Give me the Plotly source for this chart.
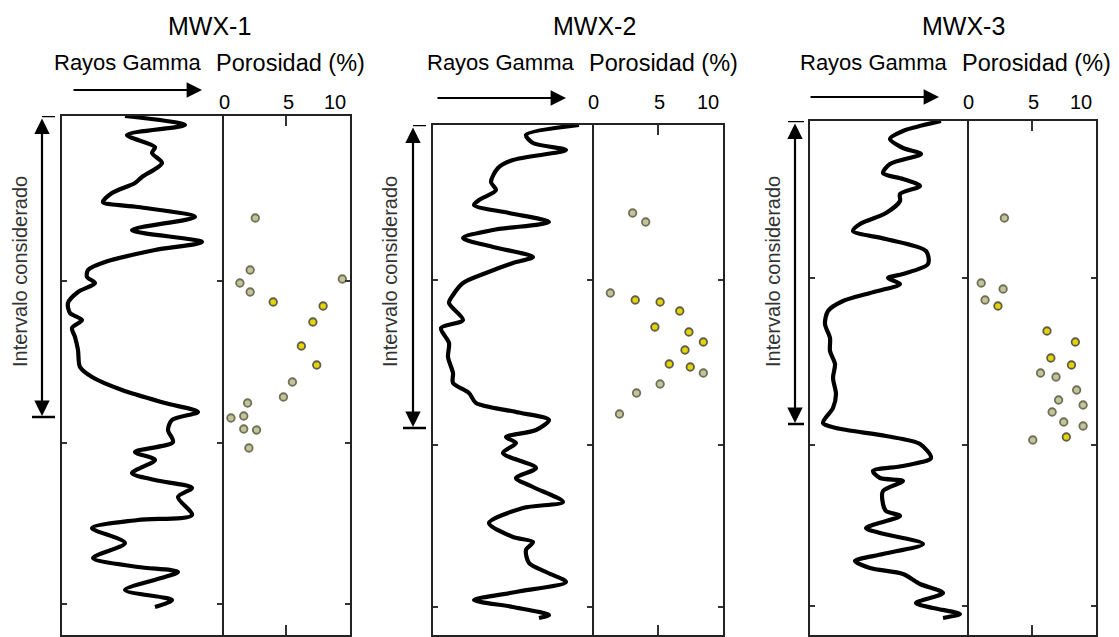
import plotly.graph_objects as go

W, H = 1119, 637

wells = ["MWX-1", "MWX-2", "MWX-3"]
track_titles = ["Rayos Gamma", "Porosidad (%)"]
por_ticks = [0, 5, 10]
por_tick_text = ["0", "5", "10"]
interval_label = "Intervalo considerado"

# Gamma-ray curves (relative gamma units, depth units from top of track)
gr1_g = [63,123,65,93,90,100,80,73,50,41,76,133,70,140,93,43,26,25,33,16,6,8,20,10,13,16,18,30,60,103,136,110,106,111,73,93,70,93,130,116,130,76,30,63,31,76,116,63,110,93]
gr1_d = [0,9,19,31,37,47,61,67,77,86,91,101,114,126,134,146,154,161,167,176,187,197,204,212,221,234,251,261,274,287,296,304,314,326,336,344,357,364,372,381,399,404,412,427,442,451,456,474,484,491]

gr2_g = [146,93,100,133,80,65,58,63,46,41,76,116,60,30,60,100,80,53,30,20,16,30,8,16,15,20,20,36,43,83,116,103,73,83,70,103,83,100,130,90,56,80,100,93,96,113,133,83,41,80,116,106]
gr2_d = [0,10,18,25,35,43,57,65,75,80,88,97,105,113,122,132,138,148,158,170,178,195,203,218,232,248,258,268,278,287,295,305,312,318,328,343,353,362,377,383,398,412,417,425,438,447,457,467,475,482,490,493]

gr3_g = [131,93,80,93,111,80,73,93,110,90,90,76,50,43,76,116,118,93,78,90,60,33,18,15,20,20,25,23,26,23,13,26,76,110,121,93,63,70,93,73,73,76,90,56,70,113,73,45,60,93,110,133,106,123,150,133]
gr3_d = [0,10,18,27,33,43,52,58,65,73,80,92,103,110,118,130,143,153,157,163,172,180,190,203,217,230,243,257,273,287,302,307,315,323,337,345,350,357,360,370,383,390,395,407,412,423,433,440,447,453,463,472,482,487,493,497]

# Porosity samples (%), depth, group (1 = yellow, 0 = olive)
por1_v = [2.6,2.2,1.4,2.2,9.4,4.0,7.9,7.1,6.2,7.4,5.5,4.8,2.0,1.7,0.7,1.7,2.7,2.1]
por1_d = [102,154,167,176,163,186,190,206,230,249,266,281,287,300,302,313,314,332]
por1_k = [0,0,0,0,0,1,1,1,1,1,0,0,0,0,0,0,0,0]

por2_v = [3.1,4.1,1.4,3.3,5.2,6.7,4.8,7.4,8.5,7.1,5.9,7.5,8.5,5.2,3.4,2.1]
por2_d = [88,97,168,175,177,186,202,207,217,225,239,242,248,259,268,289]
por2_k = [0,0,0,1,1,1,1,1,1,1,1,1,0,0,0,0]

por3_v = [2.9,1.1,2.8,1.4,2.4,6.2,8.4,6.5,8.1,5.7,6.9,8.5,7.1,9.0,6.6,7.5,9.0,7.7,5.1]
por3_d = [97,162,168,179,185,210,221,237,244,252,256,269,279,284,291,301,305,316,319]
por3_k = [0,0,0,0,1,1,1,1,1,0,0,0,0,0,0,0,0,1,0]

interval_bottom = [301, 303, 303]
depth_ticks = [[165, 327, 488], [155, 320, 482], [157, 324, 485]]

# ---------------- layout geometry (pixels) ----------------
panels = [
    dict(left=62, div=222, right=350, top=116, title_x=210, rg_x=127, po_x=290,
         arr_x0=72, arr_x1=202, arr_y=90, int_x=42, txt_x=20,
         bar_top=(42, 55), bar_bot=(32, 55)),
    dict(left=433, div=592, right=723, top=125, title_x=595, rg_x=500, po_x=663,
         arr_x0=436, arr_x1=566, arr_y=98, int_x=413, txt_x=390,
         bar_top=(413, 426), bar_bot=(403, 426)),
    dict(left=810, div=967, right=1096, top=121, title_x=963, rg_x=873, po_x=1036,
         arr_x0=809, arr_x1=939, arr_y=97, int_x=795, txt_x=773,
         bar_top=(788, 804), bar_bot=(788, 804)),
]
BOTTOM = 635

def px(x):
    return x / W

def py(y):
    return 1 - y / H

gr = [(gr1_g, gr1_d), (gr2_g, gr2_d), (gr3_g, gr3_d)]
por = [(por1_v, por1_d, por1_k), (por2_v, por2_d, por2_k), (por3_v, por3_d, por3_k)]

FONT = "Liberation Sans, Arial, sans-serif"
LINEC = "#222222"

fig = go.Figure()
layout = dict(
    width=W, height=H, margin=dict(l=0, r=0, t=0, b=0),
    paper_bgcolor="white", plot_bgcolor="white", showlegend=False,
    font=dict(family=FONT, color="black"),
)
annotations = []
shapes = []

for i, p in enumerate(panels):
    ga = 2 * i + 1
    pa = 2 * i + 2
    depth_range = [BOTTOM - p["top"], 0]
    gx = "x" if ga == 1 else f"x{ga}"
    gy = "y" if ga == 1 else f"y{ga}"
    pxn = f"x{pa}"
    pyn = f"y{pa}"
    ydom = [py(BOTTOM), py(p["top"])]

    layout["xaxis" if ga == 1 else f"xaxis{ga}"] = dict(
        domain=[px(p["left"]), px(p["div"])], range=[0, p["div"] - p["left"]],
        anchor=gy, showline=True, mirror=True, linecolor=LINEC, linewidth=2,
        showgrid=False, zeroline=False, showticklabels=False, ticks="")
    layout["yaxis" if ga == 1 else f"yaxis{ga}"] = dict(
        domain=ydom, range=depth_range, anchor=gx, showline=True, mirror="ticks",
        linecolor=LINEC, linewidth=2, showgrid=False, zeroline=False,
        showticklabels=False, ticks="inside", tickvals=depth_ticks[i],
        ticklen=5, tickwidth=2, tickcolor="#333333")
    layout[f"xaxis{pa}"] = dict(
        domain=[px(p["div"]), px(p["right"])], range=[0, 10], anchor=pyn,
        showline=True, mirror="ticks", linecolor=LINEC, linewidth=2,
        showgrid=False, zeroline=False, showticklabels=False,
        ticks="inside", tickvals=[5], ticklen=10, tickwidth=2, tickcolor="#333333")
    layout[f"yaxis{pa}"] = dict(
        domain=ydom, range=depth_range, anchor=pxn, side="right", showline=True, mirror=False,
        linecolor=LINEC, linewidth=2, showgrid=False, zeroline=False,
        showticklabels=False, ticks="inside", tickvals=depth_ticks[i],
        ticklen=5, tickwidth=2, tickcolor="#333333")

    g, d = gr[i]
    fig.add_trace(go.Scatter(x=g, y=d, xaxis=gx, yaxis=gy, mode="lines",
                             line=dict(color="black", width=4.2, shape="spline", smoothing=0.8),
                             hoverinfo="skip"))
    v, dd, k = por[i]
    for grp, fill, edge in [(0, "#c4c49a", "#6f6f58"), (1, "#e6d400", "#5d5d4a")]:
        xs = [a for a, kk in zip(v, k) if kk == grp]
        ys = [b for b, kk in zip(dd, k) if kk == grp]
        fig.add_trace(go.Scatter(x=xs, y=ys, xaxis=pxn, yaxis=pyn, mode="markers",
                                 marker=dict(size=7.5, color=fill, line=dict(color=edge, width=1.8)),
                                 hoverinfo="skip"))

    # Titles
    annotations.append(dict(text=wells[i], x=px(p["title_x"]), y=py(26), xref="paper", yref="paper",
                            showarrow=False, font=dict(size=25, color="black"),
                            xanchor="center", yanchor="middle"))
    annotations.append(dict(text=track_titles[0], x=px(p["rg_x"]), y=py(63), xref="paper", yref="paper",
                            showarrow=False, font=dict(size=22, color="black"),
                            xanchor="center", yanchor="middle"))
    annotations.append(dict(text=track_titles[1], x=px(p["po_x"]), y=py(63), xref="paper", yref="paper",
                            showarrow=False, font=dict(size=23.5, color="black"),
                            xanchor="center", yanchor="middle"))
    # Porosity tick labels
    for tv, tt in zip(por_ticks, por_tick_text):
        annotations.append(dict(text=tt, x=tv, xref=pxn, y=py(102), yref="paper",
                                showarrow=False, font=dict(size=20, color="black"),
                                xanchor="right" if tv == por_ticks[-1] else "center",
                                xshift=-2 if tv == por_ticks[-1] else 2,
                                yanchor="middle"))
    # Gamma direction arrow
    annotations.append(dict(text="", x=px(p["arr_x1"]), y=py(p["arr_y"]), xref="paper", yref="paper",
                            showarrow=True, ax=p["arr_x0"] - p["arr_x1"], ay=0,
                            arrowhead=2, arrowsize=1.4, arrowwidth=2.2, arrowcolor="black",
                            standoff=0, startstandoff=0))
    # Interval arrow (double-headed)
    annotations.append(dict(text="", x=px(p["int_x"]), xref="paper", y=interval_bottom[i], yref=gy,
                            showarrow=True, axref="pixel", ax=0, ayref=gy, ay=1,
                            arrowhead=2, startarrowhead=2, arrowside="end+start",
                            arrowsize=1.4, startarrowsize=1.4, arrowwidth=2.2, arrowcolor="black",
                            standoff=1, startstandoff=0))
    shapes.append(dict(type="line", xref="paper", yref=gy,
                       x0=px(p["bar_top"][0]), x1=px(p["bar_top"][1]), y0=0, y1=0,
                       line=dict(color="black", width=2.5)))
    shapes.append(dict(type="line", xref="paper", yref=gy,
                       x0=px(p["bar_bot"][0]), x1=px(p["bar_bot"][1]),
                       y0=interval_bottom[i], y1=interval_bottom[i],
                       line=dict(color="black", width=2.5)))
    annotations.append(dict(text=interval_label, x=px(p["txt_x"]), y=py(272), xref="paper", yref="paper",
                            showarrow=False, textangle=-90, font=dict(size=20, color="#333333"),
                            xanchor="center", yanchor="middle"))

layout["annotations"] = annotations
layout["shapes"] = shapes
fig.update_layout(**layout)
fig.write_html("out.html", config={"displayModeBar": False},
               post_script="document.body.style.margin='0px';document.body.style.overflow='hidden';")
